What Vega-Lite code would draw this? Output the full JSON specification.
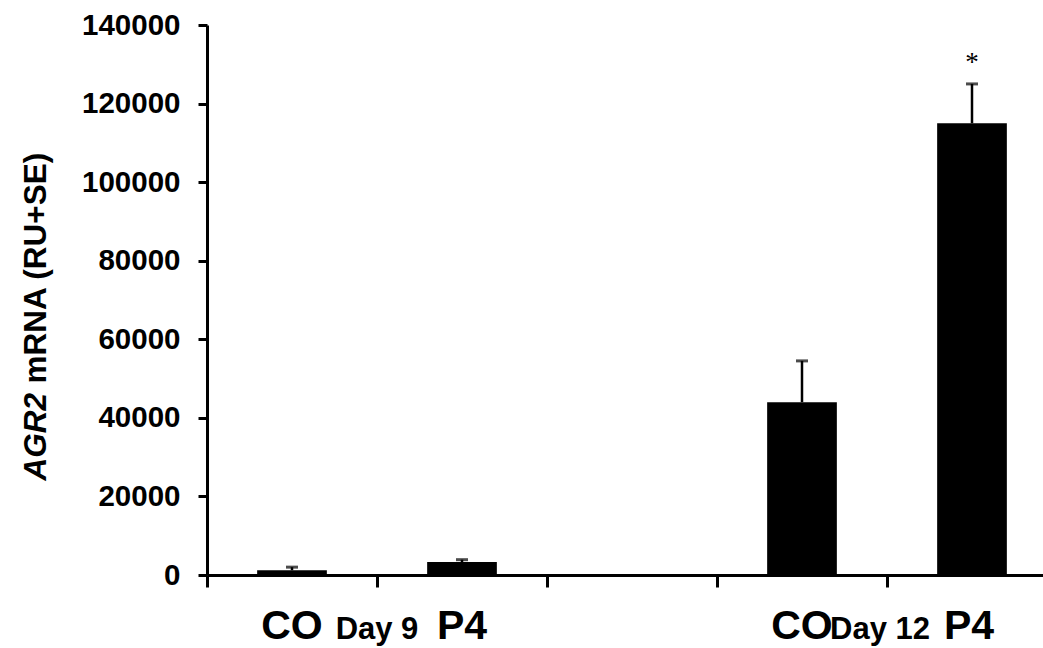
{
  "$schema": "https://vega.github.io/schema/vega-lite/v6.json",
  "width": 836,
  "height": 550,
  "autosize": {"type": "none"},
  "padding": {"left": 207, "top": 25, "right": 0, "bottom": 73},
  "background": "white",
  "config": {"view": {"stroke": null}, "font": "Liberation Sans"},
  "data": {
    "values": [
      {"group": "CO9", "label": "CO", "day": "", "mean": 1200, "top": 2000, "sig": ""},
      {"group": "P49", "label": "P4", "day": "Day 9", "mean": 3300, "top": 3900, "sig": ""},
      {"group": "CO12", "label": "CO", "day": "", "mean": 44000, "top": 54500, "sig": ""},
      {"group": "P412", "label": "P4", "day": "Day 12", "mean": 115000, "top": 125000, "sig": "*"}
    ]
  },
  "encoding": {
    "x": {
      "field": "group",
      "type": "nominal",
      "sort": null,
      "scale": {"domain": ["CO9", "P49", "gap", "CO12", "P412"], "range": [0, 850], "paddingInner": 0, "paddingOuter": 0},
      "axis": {"title": null, "labels": false, "bandPosition": 0, "domainColor": "black", "domainWidth": 3, "tickColor": "black", "tickWidth": 3, "tickSize": 12, "grid": false}
    }
  },
  "layer": [
    {
      "mark": {"type": "bar", "color": "black", "width": {"band": 0.41}},
      "encoding": {
        "y": {
          "field": "mean",
          "type": "quantitative",
          "scale": {"domain": [0, 140000], "nice": false},
          "axis": {
            "title": "mRNA (RU+SE)",
            "titleFontSize": 31.5,
            "titleFontWeight": "bold",
            "titleColor": "black",
            "titleAngle": 270,
            "titleAlign": "left",
            "titleBaseline": "alphabetic",
            "titleX": -162,
            "titleY": 358,
            "values": [0, 20000, 40000, 60000, 80000, 100000, 120000, 140000],
            "format": "d",
            "labelFontSize": 29.5,
            "labelFontWeight": "bold",
            "labelColor": "black",
            "labelPadding": 18,
            "tickSize": 9,
            "tickWidth": 3,
            "tickColor": "black",
            "domainColor": "black",
            "domainWidth": 3,
            "grid": false
          }
        }
      }
    },
    {
      "mark": {"type": "rule", "color": "black", "strokeWidth": 2.5},
      "encoding": {
        "y": {
          "field": "mean",
          "type": "quantitative",
          "axis": {
            "orient": "left",
            "title": "AGR2",
            "titleFontSize": 31.5,
            "titleFontWeight": "bold",
            "titleFontStyle": "italic",
            "titleColor": "black",
            "titleAngle": 270,
            "titleAlign": "left",
            "titleBaseline": "alphabetic",
            "titleX": -162,
            "titleY": 455,
            "domain": false,
            "ticks": false,
            "labels": false,
            "grid": false
          }
        },
        "y2": {"field": "top"}
      }
    },
    {
      "mark": {"type": "tick", "color": "black", "size": 12, "thickness": 3},
      "encoding": {
        "y": {"field": "top", "type": "quantitative", "axis": null}
      }
    },
    {
      "mark": {"type": "text", "font": "Liberation Serif", "fontSize": 27, "color": "black", "baseline": "alphabetic", "dy": -13},
      "encoding": {
        "y": {"field": "top", "type": "quantitative", "axis": null},
        "text": {"field": "sig"}
      }
    },
    {
      "transform": [{"filter": "datum.group !== 'P412'"}],
      "mark": {"type": "text", "fontSize": 41, "fontWeight": "bold", "color": "black", "baseline": "alphabetic", "dy": 64},
      "encoding": {
        "y": {"datum": 0, "type": "quantitative", "axis": null},
        "text": {"field": "label"}
      }
    },
    {
      "transform": [{"filter": "datum.group === 'P412'"}],
      "mark": {"type": "text", "fontSize": 41, "fontWeight": "bold", "color": "black", "baseline": "alphabetic", "dy": 64, "dx": -3},
      "encoding": {
        "y": {"datum": 0, "type": "quantitative", "axis": null},
        "text": {"field": "label"}
      }
    },
    {
      "transform": [{"filter": "datum.day === 'Day 9'"}],
      "mark": {"type": "text", "fontSize": 31, "fontWeight": "bold", "color": "black", "baseline": "alphabetic", "dy": 64},
      "encoding": {
        "x": {"field": "group", "type": "nominal", "bandPosition": 0},
        "y": {"datum": 0, "type": "quantitative", "axis": null},
        "text": {"field": "day"}
      }
    },
    {
      "transform": [{"filter": "datum.day === 'Day 12'"}],
      "mark": {"type": "text", "fontSize": 31, "fontWeight": "bold", "color": "black", "baseline": "alphabetic", "dy": 64, "dx": -7},
      "encoding": {
        "x": {"field": "group", "type": "nominal", "bandPosition": 0},
        "y": {"datum": 0, "type": "quantitative", "axis": null},
        "text": {"field": "day"}
      }
    }
  ],
  "resolve": {"axis": {"y": "independent"}}
}
